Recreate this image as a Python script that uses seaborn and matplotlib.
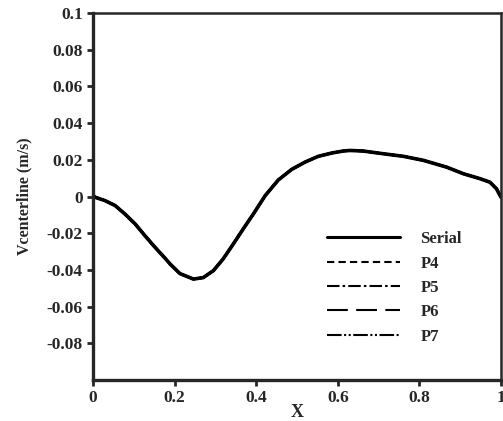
import numpy as np
import pandas as pd
import matplotlib
matplotlib.use('Agg')
import matplotlib.pyplot as plt
import seaborn as sns
from matplotlib.lines import Line2D

# data (all five runs lie on top of each other)
x_pos = [0.0, 0.005, 0.029, 0.054, 0.078, 0.103, 0.127, 0.152, 0.176, 0.189,
         0.213, 0.246, 0.270, 0.295, 0.319, 0.344, 0.368, 0.393, 0.422, 0.454,
         0.487, 0.520, 0.552, 0.585, 0.613, 0.630, 0.662, 0.712, 0.761, 0.81,
         0.867, 0.908, 0.949, 0.973, 0.989, 1.0]
v_center = [0.0006, -0.0004, -0.0022, -0.0049, -0.0095, -0.0149, -0.0213, -0.0277,
            -0.0335, -0.0368, -0.0420, -0.0450, -0.0442, -0.0404, -0.034, -0.0258,
            -0.0177, -0.0095, 0.0005, 0.0090, 0.0148, 0.0188, 0.0219, 0.0237,
            0.0248, 0.0251, 0.0248, 0.0233, 0.0219, 0.0197, 0.016, 0.0124,
            0.0097, 0.0078, 0.0042, -0.0004]
runs = ['Serial', 'P4', 'P5', 'P6', 'P7']
dash_styles = ['', (3.5, 2), (6, 1.5, 1.2, 1.5), (10, 4), (7, 1.2, 1, 1.2, 1, 1.2)]

rows = []
for r in runs:
    for xv, yv in zip(x_pos, v_center):
        rows.append({'X': xv, 'V': yv, 'run': r})
df = pd.DataFrame(rows)

sns.set_style('ticks')
plt.rcParams['font.family'] = ['Liberation Serif', 'DejaVu Serif']
plt.rcParams['font.weight'] = 'bold'

fig = plt.figure(figsize=(5.03, 4.21), dpi=100)
ax = fig.add_axes([0.185, 0.0974, 0.811, 0.8716])

sns.lineplot(data=df, x='X', y='V', hue='run', style='run',
             palette=['black'] * 5, dashes=dash_styles, linewidth=1.8,
             ax=ax, legend=False)
# solid line on top
sns.lineplot(x=x_pos, y=v_center, color='black', linewidth=2.6, ax=ax)

ax.set_xlim(0, 1)
ax.set_ylim(-0.1, 0.1)
ax.set_xticks([0, 0.2, 0.4, 0.6, 0.8, 1.0])
ax.set_xticklabels(['0', '0.2', '0.4', '0.6', '0.8', '1'])
yt = [-0.08, -0.06, -0.04, -0.02, 0, 0.02, 0.04, 0.06, 0.08, 0.1]
ax.set_yticks(yt)
ax.set_yticklabels(['%g' % v for v in yt])
ax.tick_params(direction='out', length=4.5, width=2, labelsize=12.5, pad=3)

for s in ['left', 'bottom']:
    ax.spines[s].set_linewidth(2.4)
for s in ['top', 'right']:
    ax.spines[s].set_linewidth(1.8)

ax.set_xlabel('X', fontsize=13, fontweight='bold', labelpad=-2)
ax.set_ylabel('Vcenterline (m/s)', fontsize=11.5, fontweight='bold', labelpad=10)

# legend
handles = []
for r, d in zip(runs, dash_styles):
    h = Line2D([], [], color='black', linewidth=2.2 if r == 'Serial' else 1.5)
    if d:
        h.set_dashes(d)
    handles.append(h)
ax.legend(handles, runs, loc='upper left', bbox_to_anchor=(0.545, 0.437),
          frameon=False, handlelength=4.4, handletextpad=1.2,
          labelspacing=0.5, borderpad=0.2,
          prop={'weight': 'bold', 'size': 12})

fig.savefig('out.png', dpi=100)
